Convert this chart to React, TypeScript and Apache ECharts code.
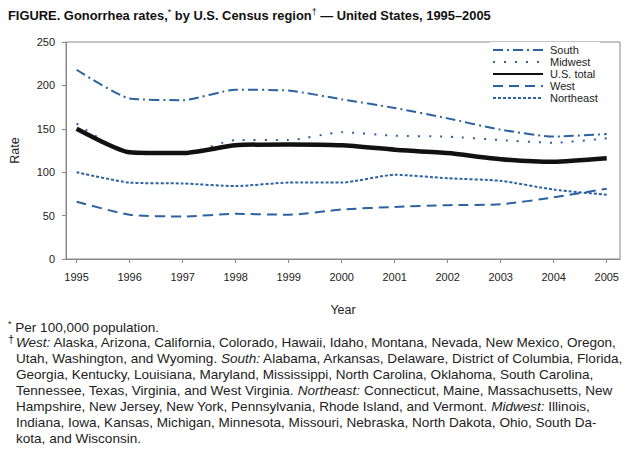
import React, { useEffect, useRef } from "react";
import * as echarts from "echarts";

const years = [1995, 1996, 1997, 1998, 1999, 2000, 2001, 2002, 2003, 2004, 2005];
const south = [218, 185, 183, 195, 194, 184, 174, 162, 149, 141, 144];
const midwest = [156, 122, 121, 137, 137, 146, 142, 141, 137, 134, 139];
const usTotal = [150, 123, 122, 131, 132, 131, 126, 122, 115, 112, 116];
const west = [66, 51, 49, 52, 51, 57, 60, 62, 63, 71, 81];
const northeast = [100, 88, 87, 84, 88, 88, 97, 93, 90, 80, 74];
const yTicks = [0, 50, 100, 150, 200, 250];

const FONT = '"Liberation Sans", Arial, Helvetica, sans-serif';
const BLUE = "#2a62a2";
const FOOT_SIZE = 13.55;

const footLines = [
  "{sup|*} Per 100,000 population.",
  "{i|West:} Alaska, Arizona, California, Colorado, Hawaii, Idaho, Montana, Nevada, New Mexico, Oregon,",
  "Utah, Washington, and Wyoming. {i|South:} Alabama, Arkansas, Delaware, District of Columbia, Florida,",
  "Georgia, Kentucky, Louisiana, Maryland, Mississippi, North Carolina, Oklahoma, South Carolina,",
  "Tennessee, Texas, Virginia, and West Virginia. {i|Northeast:} Connecticut, Maine, Massachusetts, New",
  "Hampshire, New Jersey, New York, Pennsylvania, Rhode Island, and Vermont. {i|Midwest:} Illinois,",
  "Indiana, Iowa, Kansas, Michigan, Minnesota, Missouri, Nebraska, North Dakota, Ohio, South Da-",
  "kota, and Wisconsin.",
];

export default function App() {
  const ref = useRef<HTMLDivElement>(null);
  useEffect(() => {
    document.body.style.margin = "0";
    if (!ref.current) return;
    const chart = echarts.init(ref.current, null, { renderer: "svg" });
    const pair = (vals: number[]) => years.map((y, i) => [y, vals[i]]);
    const mk = (name: string, vals: number[], color: string, width: number, type: any) => ({
      name,
      type: "line",
      data: pair(vals),
      smooth: 0.2,
      showSymbol: false,
      symbol: "none",
      lineStyle: { color, width, type, cap: "butt" },
      itemStyle: { color },
      z: name === "U.S. total" ? 3 : 2,
    });
    const footStyle = {
      fontFamily: FONT,
      fontSize: FOOT_SIZE,
      fill: "#222",
      rich: {
        i: { fontStyle: "italic", fontFamily: FONT, fontSize: FOOT_SIZE, fill: "#222" },
        sup: { fontFamily: FONT, fontSize: 9, fill: "#222", padding: [0, 0, 6, 0] },
      },
    };
    const graphics: any[] = [
      {
        type: "text",
        left: 8,
        top: 7,
        style: {
          text: "FIGURE. Gonorrhea rates,{s|*} by U.S. Census region{s|†} — United States, 1995–2005",
          fontFamily: FONT,
          fontSize: 12.9,
          fontWeight: "bold",
          fill: "#111",
          rich: {
            s: { fontFamily: FONT, fontSize: 9, fontWeight: "normal", fill: "#111", padding: [0, 0, 7, 0] },
          },
        },
      },
      {
        type: "text",
        x: 8,
        y: 333,
        style: { text: "†", fontFamily: FONT, fontSize: 11, fill: "#222" },
      },
    ];
    footLines.forEach((t, i) => {
      graphics.push({
        type: "text",
        x: i === 0 ? 8 : 16,
        y: 327 + i * 15.9,
        style: { ...footStyle, text: t, verticalAlign: "middle" },
      });
    });
    chart.setOption({
      animation: false,
      backgroundColor: "#fff",
      textStyle: { fontFamily: FONT },
      grid: {
        left: 65,
        right: 20,
        top: 42,
        bottom: 196,
        show: true,
        borderColor: "#888",
        borderWidth: 1,
        containLabel: false,
      },
      legend: {
        left: 490,
        top: 42,
        orient: "vertical",
        itemWidth: 50,
        itemHeight: 12,
        itemGap: 0,
        padding: 2,
        backgroundColor: "#fff",
        itemStyle: { color: "rgba(0,0,0,0)", borderColor: "rgba(0,0,0,0)", borderWidth: 0, opacity: 0 },
        textStyle: { fontFamily: FONT, fontSize: 11, lineHeight: 12, color: "#222", padding: [0, 0, 0, 2] },
        data: ["South", "Midwest", "U.S. total", "West", "Northeast"],
      },
      xAxis: {
        type: "value",
        min: 1994.8,
        max: 2005.25,
        name: "Year",
        nameLocation: "middle",
        nameGap: 44,
        nameTextStyle: { fontFamily: FONT, fontSize: 12.5, color: "#222" },
        axisLine: { show: true, lineStyle: { color: "#888", width: 1 } },
        axisTick: { show: true, customValues: years, length: 4, lineStyle: { color: "#888" } },
        axisLabel: {
          customValues: years,
          formatter: (v: number) => String(v),
          fontFamily: FONT,
          fontSize: 11,
          color: "#222",
          margin: 12,
        },
        splitLine: { show: false },
      },
      yAxis: {
        type: "value",
        min: 0,
        max: 250,
        interval: 50,
        name: "Rate",
        nameLocation: "middle",
        nameGap: 45,
        nameTextStyle: { fontFamily: FONT, fontSize: 12.5, color: "#222" },
        axisLine: { show: true, lineStyle: { color: "#888", width: 1 } },
        axisTick: { show: true, length: 4, lineStyle: { color: "#888" } },
        axisLabel: {
          customValues: yTicks,
          fontFamily: FONT,
          fontSize: 11,
          color: "#222",
          margin: 11,
        },
        splitLine: { show: false },
      },
      series: [
        mk("South", south, BLUE, 2, [10, 4, 2, 4]),
        mk("Midwest", midwest, BLUE, 2, [2, 9]),
        mk("U.S. total", usTotal, "#111", 4.5, "solid"),
        mk("West", west, BLUE, 2, [10, 6]),
        mk("Northeast", northeast, BLUE, 2, [3, 2]),
      ],
      graphic: graphics,
    });
    return () => chart.dispose();
  }, []);
  return <div ref={ref} style={{ width: 640, height: 455 }} />;
}
